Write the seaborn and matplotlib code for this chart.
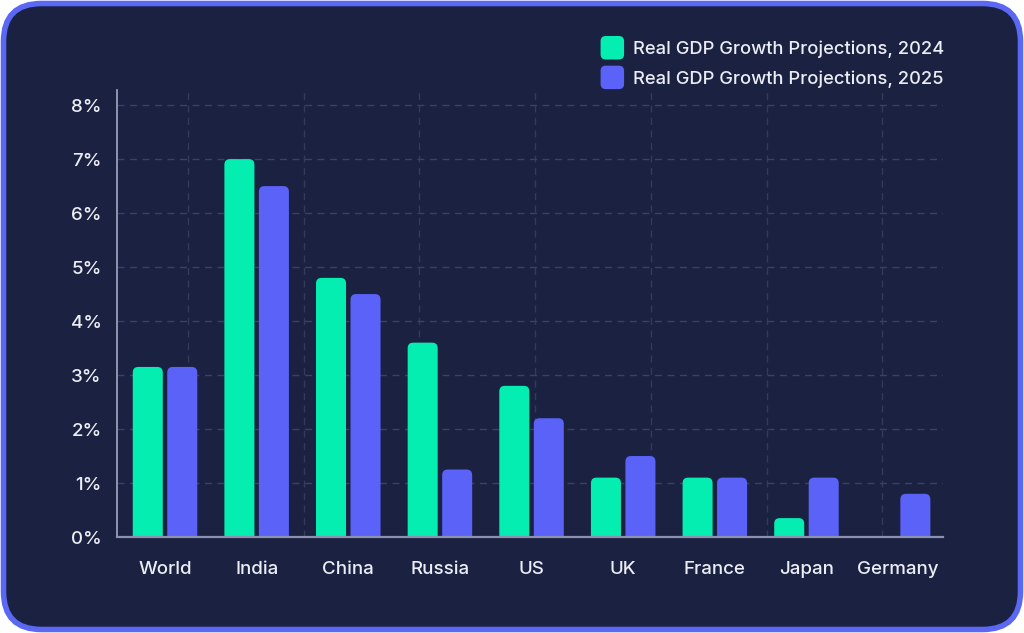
import numpy as np
import pandas as pd
import matplotlib
matplotlib.use("Agg")
import matplotlib.pyplot as plt
from matplotlib.patches import FancyBboxPatch
from matplotlib.legend_handler import HandlerPatch
import seaborn as sns

# ---- data ----
countries = ["World", "India", "China", "Russia", "US", "UK", "France", "Japan", "Germany"]
gdp_2024 = [3.15, 7.0, 4.8, 3.6, 2.8, 1.1, 1.1, 0.35, 0.0]
gdp_2025 = [3.15, 6.5, 4.5, 1.25, 2.2, 1.5, 1.1, 1.1, 0.8]
series_labels = ["Real GDP Growth Projections, 2024", "Real GDP Growth Projections, 2025"]
y_ticks = [0, 1, 2, 3, 4, 5, 6, 7, 8]

df = pd.DataFrame({
    "country": countries * 2,
    "value": gdp_2024 + gdp_2025,
    "series": [series_labels[0]] * len(countries) + [series_labels[1]] * len(countries),
})

# ---- style ----
NAVY = "#1b2141"
BORDER = "#5a68f4"
GREEN = "#05eeb2"
BLUE = "#5a62f8"
TEXT = "#eceef5"
GRID = "#3a4163"

sns.set_style("dark")
plt.rcParams["font.family"] = ["Inter", "DejaVu Sans"]
plt.rcParams["font.weight"] = 500

W, H = 1024, 633
fig = plt.figure(figsize=(W / 100, H / 100), dpi=100)
fig.patch.set_facecolor("white")

# rounded card background
card = FancyBboxPatch((3.5 / W, 3.5 / H), (W - 7) / W, (H - 7) / H,
                      boxstyle="round,pad=0,rounding_size=%f" % (38 / W),
                      mutation_aspect=W / H,
                      transform=fig.transFigure, facecolor=NAVY, edgecolor=BORDER,
                      linewidth=4, zorder=-10)
fig.add_artist(card)

ax_l, ax_b, ax_w, ax_h = 117 / W, (H - 537) / H, 826 / W, 447 / H
ax = fig.add_axes([ax_l, ax_b, ax_w, ax_h])
ax.set_facecolor("none")

sns.barplot(data=df, x="country", y="value", hue="series",
            palette=[GREEN, BLUE], width=0.753, gap=0.13,
            ax=ax, legend=False, saturation=1, zorder=3)

ax.set_xlim(-0.524, 8.49)
ax.set_ylim(0, 8.28)

# replace bars with rounded-top bars
px_x = ax_w * W / (8.49 + 0.524)   # pixels per x unit
px_y = ax_h * H / 8.28             # pixels per y unit
r_px = 5.5
rx = r_px / px_x
aspect = px_x / px_y
bars = list(ax.patches)
for b in bars:
    x0, w, h = b.get_x(), b.get_width(), b.get_height()
    fc = b.get_facecolor()
    extra = r_px / px_y
    p = FancyBboxPatch((x0, -extra), w, h + extra,
                       boxstyle="round,pad=0,rounding_size=%f" % rx,
                       mutation_aspect=aspect,
                       facecolor=fc, edgecolor="none", zorder=3)
    p.set_clip_path(ax.patch)
    ax.add_patch(p)
    b.remove()

# horizontal grid
ax.set_yticks(y_ticks)
ax.set_yticklabels([f"{t}%" for t in y_ticks])
ax.yaxis.grid(True, color=GRID, linestyle=(0, (5, 4)), linewidth=1.0, zorder=0)
ax.xaxis.grid(False)

# vertical dashed grid lines (independent of categories)
vfrac = [(p - 117) / 826 for p in [188, 303.7, 419.4, 535, 650.8, 766.5, 882.2]]
for f in vfrac:
    ax.axvline(ax.get_xlim()[0] + f * (ax.get_xlim()[1] - ax.get_xlim()[0]),
               color="#333a5a", linestyle=(0, (5, 4)), linewidth=1.0, zorder=0)

ax.tick_params(axis="both", length=0, colors=TEXT, labelsize=13.5)
ax.tick_params(axis="y", pad=11)
ax.tick_params(axis="x", pad=17)
ax.set_xlabel("")
ax.set_ylabel("")
for s in ["top", "right"]:
    ax.spines[s].set_visible(False)
ax.spines["left"].set_color("#a3a8c2")
ax.spines["left"].set_linewidth(1.2)
ax.spines["bottom"].set_color("#8c92ad")
ax.spines["bottom"].set_linewidth(1.6)
ax.spines["bottom"].set_zorder(4)


# legend with rounded squares
class RoundHandler(HandlerPatch):
    def create_artists(self, legend, orig_handle, xdescent, ydescent, width, height, fontsize, trans):
        s = min(width, height) * 1.25
        p = FancyBboxPatch((-xdescent + (width - s) / 2, -ydescent + (height - s) / 2), s, s,
                           boxstyle="round,pad=0,rounding_size=%f" % (s * 0.22),
                           facecolor=orig_handle.get_facecolor(), edgecolor="none",
                           transform=trans)
        return [p]


handles = [FancyBboxPatch((0, 0), 1, 1, facecolor=GREEN, edgecolor="none"),
           FancyBboxPatch((0, 0), 1, 1, facecolor=BLUE, edgecolor="none")]
leg = fig.legend(handles, series_labels, loc="upper right",
                 bbox_to_anchor=(952 / W, 1 - 31 / H),
                 frameon=False, fontsize=13.2, labelcolor=TEXT,
                 handler_map={FancyBboxPatch: RoundHandler()},
                 handlelength=1.2, handleheight=1.2, handletextpad=0.55,
                 labelspacing=0.55, borderaxespad=0)

fig.savefig("out.png", dpi=100, facecolor=fig.get_facecolor())
